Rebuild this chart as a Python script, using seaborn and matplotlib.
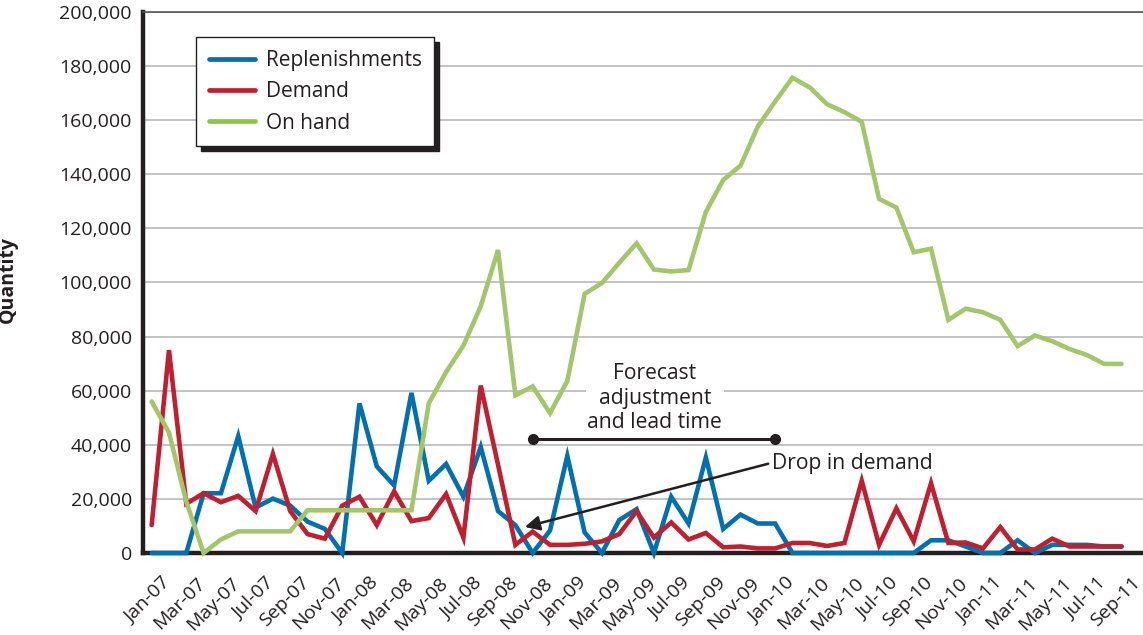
import numpy as np
import pandas as pd
import matplotlib
matplotlib.use("Agg")
import matplotlib.pyplot as plt
import matplotlib.ticker as mticker
from matplotlib.transforms import ScaledTranslation
from matplotlib.lines import Line2D
import seaborn as sns

# ---------------- data ----------------
months = list(pd.date_range("2007-01-01", periods=57, freq="MS").strftime("%b-%y"))

replenishments = [0, 0, 0, 22100, 22100, 43200, 16800, 20100, 17500, 11600,
                  8900, 0, 55300, 32000, 25000, 59200, 26700, 32900, 20800, 39200,
                  15500, 10300, 0, 8300, 35900, 7600, 0, 12200, 16200, 0,
                  20800, 10900, 35300, 8900, 14200, 10900, 10900, 0, 0, 0,
                  0, 0, 0, 0, 0, 4700, 4700, 2400, 0, 0,
                  4700, 0, 3000, 3000, 3000, 2400, 2400]

demand = [10300, 75000, 18200, 22100, 18800, 21100, 15500, 36600, 15500, 7000,
          5300, 17500, 20800, 10300, 22800, 11800, 12900, 21800, 5700, 61900,
          32600, 3000, 7900, 3000, 3000, 3400, 4300, 7000, 15500, 5700,
          11300, 5000, 7400, 2100, 2400, 1700, 1700, 3700, 3700, 2600,
          3700, 26700, 3000, 16500, 4300, 25800, 3700, 3900, 1700, 9600,
          1300, 1300, 5300, 2400, 2400, 2400, 2400]

on_hand = [56000, 44500, 19000, 0, 5000, 8000, 8000, 8000, 8000, 15800,
           15800, 15800, 15800, 15800, 15800, 15800, 55300, 66900, 76700, 91200,
           112000, 58300, 61600, 51700, 63600, 95800, 99800, 107300, 114500, 104800,
           104100, 104600, 126100, 137900, 143200, 157700, 166900, 175700, 172100, 165900,
           163000, 159400, 130900, 127700, 111200, 112500, 86200, 90300, 89000, 86200,
           76500, 80400, 78300, 75400, 73200, 69900, 69900]

series_names = ["Replenishments", "Demand", "On hand"]
y_ticks = [0, 20000, 40000, 60000, 80000, 100000, 120000, 140000, 160000, 180000, 200000]

# annotation anchors (month index, quantity)
bracket_start, bracket_end, bracket_level = 22, 36, 42000
drop_tip = (21.55, 9600)
drop_text_pos = (35.8, 33000)
forecast_text_pos = (29.05, 57300)

# ---------------- styling ----------------
sns.set_theme(style="white")
plt.rcParams["font.family"] = ["Open Sans", "DejaVu Sans"]
ink = "#231f20"
line_colors = {"Replenishments": "#0071ae", "Demand": "#c01f2f", "On hand": "#a4c66b"}
legend_colors = {"Replenishments": "#0071ae", "Demand": "#c01f2f", "On hand": "#8dc641"}

df = pd.DataFrame({
    "idx": np.tile(np.arange(len(months)), 3),
    "value": replenishments + demand + on_hand,
    "series": np.repeat(series_names, len(months)),
})

fig = plt.figure(figsize=(11.43, 6.35), dpi=100)
ax = fig.add_axes([143 / 1143, 1 - 553 / 635, 1000 / 1143, 541 / 635])

sns.lineplot(data=df, x="idx", y="value", hue="series", hue_order=series_names,
             palette=line_colors, linewidth=3.3, legend=False, ax=ax, zorder=3)
for ln in ax.get_lines():
    ln.set_solid_joinstyle("miter")
    ln.set_clip_on(False)

ax.set_xlim(-0.5, 57.24)
ax.set_ylim(0, 200000)

# y axis
ax.set_yticks(y_ticks)
ax.yaxis.set_major_formatter(mticker.FuncFormatter(lambda v, p: f"{int(v):,}"))
ax.tick_params(axis="y", length=0, pad=8, labelsize=14, labelcolor=ink)
ax.grid(axis="y", color="#b3b3b3", linewidth=1.1)
ax.grid(axis="x", visible=False)
ax.set_axisbelow(True)
ax.set_ylabel("Quantity", fontsize=14, fontweight="bold", color=ink)
ax.yaxis.set_label_coords(-0.125, 0.505)

# x axis: tick marks at category boundaries every 2 months, labels at categories
ax.set_xticks(np.arange(-0.5, 57, 2))
ax.tick_params(axis="x", which="major", length=11, width=1.3, color="#555555",
               labelbottom=False, direction="out")
ax.set_xticks(np.arange(0, len(months), 2), minor=True)
ax.set_xticklabels(months[::2], minor=True)
ax.tick_params(axis="x", which="minor", length=0, pad=15, labelsize=14, labelcolor=ink)
offset = ScaledTranslation(10 / 100, 0, fig.dpi_scale_trans)
for lab in ax.get_xticklabels(minor=True):
    lab.set_rotation(45)
    lab.set_ha("right")
    lab.set_va("top")
    lab.set_rotation_mode("anchor")
    lab.set_transform(lab.get_transform() + offset)
ax.set_xlabel("")

# spines
for s in ["left", "bottom"]:
    ax.spines[s].set_color(ink)
    ax.spines[s].set_linewidth(3.2)
ax.spines["top"].set_color("#555555")
ax.spines["top"].set_linewidth(1.2)
ax.spines["right"].set_visible(False)

# legend
handles = [Line2D([0], [0], color=legend_colors[n], lw=3.4) for n in series_names]
leg = ax.legend(handles, series_names, loc="upper left", bbox_to_anchor=(0.053, 0.953),
                borderaxespad=0, frameon=True, fancybox=False, fontsize=15,
                handlelength=2.25, handletextpad=0.5, labelspacing=0.5,
                borderpad=0.6, labelcolor=ink,
                shadow={"ox": 3.6, "oy": -3.6, "facecolor": ink, "edgecolor": ink, "alpha": 1})
leg.get_frame().set_edgecolor(ink)
leg.get_frame().set_linewidth(1.0)
leg.get_frame().set_alpha(1)
leg.set_zorder(10)

# annotations
ax.plot([bracket_start, bracket_end], [bracket_level, bracket_level], color=ink,
        lw=2.2, marker="o", ms=7, zorder=5)
ax.text(*forecast_text_pos, "Forecast\nadjustment\nand lead time", ha="center", va="center",
        fontsize=15.2, color=ink, linespacing=1.22, zorder=4,
        bbox=dict(facecolor="white", edgecolor="none", pad=1))
ax.annotate("", xy=drop_tip, xytext=(drop_text_pos[0] - 0.2, drop_text_pos[1]),
            arrowprops=dict(arrowstyle="-|>", color=ink, lw=1.8, mutation_scale=22,
                            shrinkA=0, shrinkB=0), zorder=6)
ax.text(*drop_text_pos, "Drop in demand", ha="left", va="center", fontsize=15.2,
        color=ink, zorder=6)

fig.savefig("out.png", dpi=100)
